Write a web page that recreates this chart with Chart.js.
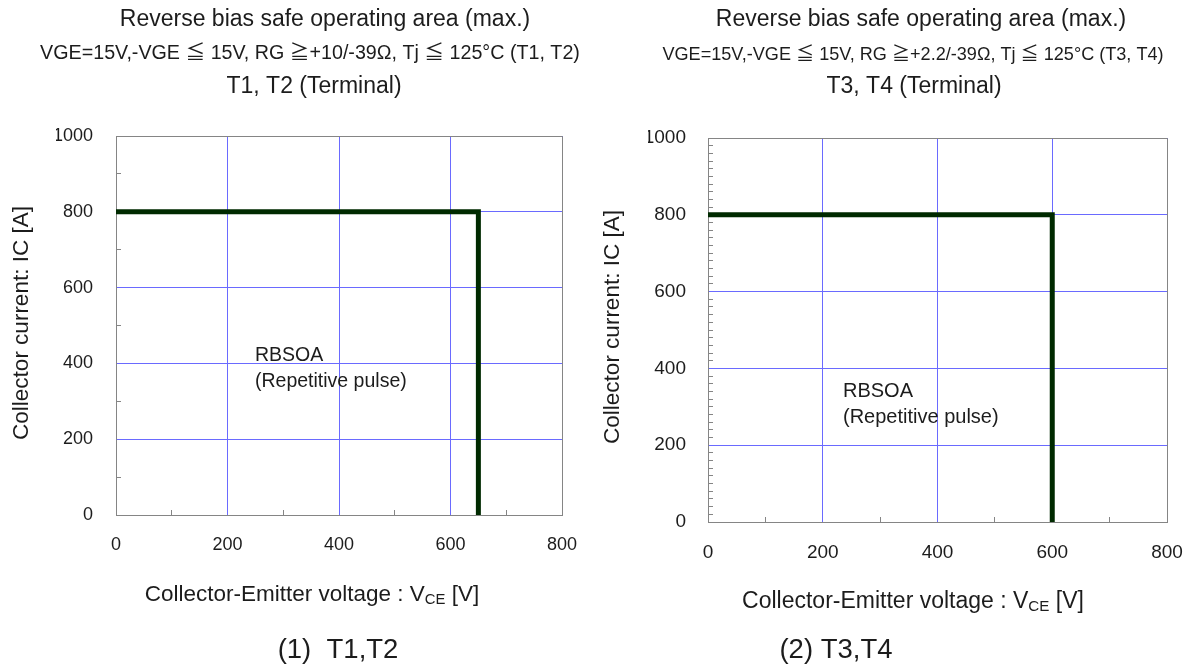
<!DOCTYPE html>
<html>
<head>
<meta charset="utf-8">
<script src="https://cdn.jsdelivr.net/npm/chart.js@4.4.1/dist/chart.umd.min.js"></script>
<style>
  html, body { margin: 0; padding: 0; background: #ffffff; width: 1187px; height: 666px; overflow: hidden; }
  canvas { position: absolute; left: 0; top: 0; }
</style>
</head>
<body>
<canvas id="rbsoaT12" width="1187" height="666"></canvas>
<canvas id="rbsoaT34" width="1187" height="666"></canvas>
<script>
// RBSOA boundary, T1/T2 terminals (V, A)
const t12Voltage = [0, 650, 650];
const t12Current = [800, 800, 0];
// RBSOA boundary, T3/T4 terminals (V, A)
const t34Voltage = [0, 600, 600];
const t34Current = [800, 800, 0];

// axis ranges and labelled tick spacing
const voltageRange = [0, 800];
const currentRange = [0, 1000];
const labelStep = 200;

const FONT = "'Liberation Sans', Arial, 'Noto Sans CJK JP', sans-serif";
const TEXT = '#1c1c1c';
const GRID = '#6a6aff';
const FRAME = '#858585';
const LINE = '#002a00';

function toPoints(xs, ys) { return xs.map((x, i) => ({ x: x, y: ys[i] })); }
// same 1px snapping Chart.js applies to its grid lines
function snap(p) { return Math.round(p - 0.5) + 0.5; }

// grey frame on the top/right edges and short inward ticks between grid lines
const frameAndMinorTicks = {
  id: 'frameAndMinorTicks',
  beforeDatasetsDraw(chart, args, opts) {
    const { ctx, chartArea: a, scales } = chart;
    const xs = scales.x, ys = scales.y;
    ctx.save();
    ctx.strokeStyle = FRAME;
    ctx.lineWidth = 1;
    ctx.beginPath();
    const top = snap(ys.getPixelForValue(ys.max));
    const right = snap(xs.getPixelForValue(xs.max));
    ctx.moveTo(a.left, top);
    ctx.lineTo(right, top);
    ctx.lineTo(right, a.bottom);
    for (let v = xs.min + opts.xStep; v < xs.max; v += opts.xStep) {
      if (v % labelStep === 0) continue;
      const px = snap(xs.getPixelForValue(v));
      ctx.moveTo(px, a.bottom);
      ctx.lineTo(px, a.bottom - opts.len);
    }
    for (let v = ys.min + opts.yStep; v < ys.max; v += opts.yStep) {
      if (v % labelStep === 0) continue;
      const py = snap(ys.getPixelForValue(v));
      ctx.moveTo(a.left, py);
      ctx.lineTo(a.left + opts.len, py);
    }
    ctx.stroke();
    ctx.restore();
  }
};

// titles, annotations, axis titles and caption
const textBlocks = {
  id: 'textBlocks',
  afterDraw(chart, args, opts) {
    const ctx = chart.ctx;
    ctx.save();
    ctx.fillStyle = TEXT;
    ctx.textBaseline = 'middle';
    for (const it of opts.items) {
      ctx.save();
      ctx.font = it.size + 'px ' + FONT;
      ctx.translate(it.x, it.y);
      if (it.rotate) ctx.rotate(it.rotate);
      if (it.sub) {
        // text with a subscript run: [before, sub, after]
        const subFont = (it.size * 0.66) + 'px ' + FONT;
        const w1 = ctx.measureText(it.sub[0]).width;
        const w3 = ctx.measureText(it.sub[2]).width;
        ctx.font = subFont;
        const w2 = ctx.measureText(it.sub[1]).width;
        let x = -(w1 + w2 + w3) / 2;
        ctx.textAlign = 'left';
        ctx.font = it.size + 'px ' + FONT;
        ctx.fillText(it.sub[0], x, 0);
        x += w1;
        ctx.font = subFont;
        ctx.fillText(it.sub[1], x, it.size * 0.22);
        x += w2;
        ctx.font = it.size + 'px ' + FONT;
        ctx.fillText(it.sub[2], x, 0);
      } else {
        ctx.textAlign = it.align || 'center';
        ctx.fillText(it.text, 0, 0);
      }
      ctx.restore();
    }
    ctx.restore();
  }
};

function makeChart(id, xs, ys, cfg) {
  return new Chart(document.getElementById(id), {
    type: 'scatter',
    data: {
      datasets: [{
        data: toPoints(xs, ys),
        showLine: true,
        borderColor: LINE,
        borderWidth: 5,
        borderJoinStyle: 'miter',
        pointRadius: 0,
        tension: 0,
        fill: false
      }]
    },
    options: {
      responsive: false,
      animation: false,
      events: [],
      layout: { padding: cfg.padding },
      plugins: {
        legend: { display: false },
        tooltip: { enabled: false },
        frameAndMinorTicks: { xStep: 100, yStep: cfg.yMinorStep, len: 5 },
        textBlocks: { items: cfg.texts }
      },
      scales: {
        x: {
          type: 'linear',
          min: voltageRange[0], max: voltageRange[1],
          afterFit(s) { s.height = 50; s.paddingLeft = 0; s.paddingRight = 0; },
          ticks: {
            stepSize: labelStep, padding: cfg.xTickPad, color: TEXT,
            font: { family: FONT, size: cfg.tickSize },
            callback: v => String(v)
          },
          grid: { drawTicks: false, lineWidth: 1, color: GRID },
          border: { color: FRAME, width: 1 }
        },
        y: {
          type: 'linear',
          min: currentRange[0], max: currentRange[1],
          afterFit(s) { s.width = 60; s.paddingTop = 0; s.paddingBottom = 0; },
          ticks: {
            stepSize: labelStep, padding: cfg.yTickPad, color: TEXT,
            font: { family: FONT, size: cfg.tickSize },
            callback: v => String(v)
          },
          grid: { drawTicks: false, lineWidth: 1, color: GRID },
          border: { color: FRAME, width: 1 }
        }
      }
    },
    plugins: [frameAndMinorTicks, textBlocks]
  });
}

makeChart('rbsoaT12', t12Voltage, t12Current, {
  padding: { left: 56, right: 1187 - 562, top: 136, bottom: 666 - 515 - 50 },
  yMinorStep: 100,
  tickSize: 18,
  xTickPad: 19,
  yTickPad: 23,
  texts: [
    { text: 'Reverse bias safe operating area (max.)', x: 325, y: 20, size: 23 },
    { text: 'VGE=15V,-VGE \u2266 15V, RG \u2267+10/-39\u03A9, Tj \u2266 125\u00B0C (T1, T2)', x: 310, y: 54, size: 19.7 },
    { text: 'T1, T2 (Terminal)', x: 314, y: 87, size: 23 },
    { text: 'RBSOA', x: 255, y: 356, size: 19.5, align: 'left' },
    { text: '(Repetitive pulse)', x: 255, y: 382, size: 19.5, align: 'left' },
    { text: 'Collector current: IC [A]', x: 22, y: 323, size: 22.5, rotate: -Math.PI / 2 },
    { sub: ['Collector-Emitter voltage : V', 'CE', ' [V]'], x: 312, y: 595, size: 22.5 },
    { text: '(1)  T1,T2', x: 338, y: 650, size: 27.5 }
  ]
});

makeChart('rbsoaT34', t34Voltage, t34Current, {
  padding: { left: 708 - 60, right: 1187 - 1167, top: 138, bottom: 666 - 522 - 50 },
  yMinorStep: 20,
  tickSize: 19,
  xTickPad: 19,
  yTickPad: 22,
  texts: [
    { text: 'Reverse bias safe operating area (max.)', x: 921, y: 20, size: 23 },
    { text: 'VGE=15V,-VGE \u2266 15V, RG \u2267+2.2/-39\u03A9, Tj \u2266 125\u00B0C (T3, T4)', x: 913, y: 55, size: 18.1 },
    { text: 'T3, T4 (Terminal)', x: 914, y: 87, size: 23 },
    { text: 'RBSOA', x: 843, y: 391, size: 20, align: 'left' },
    { text: '(Repetitive pulse)', x: 843, y: 417, size: 20, align: 'left' },
    { text: 'Collector current: IC [A]', x: 613, y: 327, size: 22.5, rotate: -Math.PI / 2 },
    { sub: ['Collector-Emitter voltage : V', 'CE', ' [V]'], x: 913, y: 602, size: 23 },
    { text: '(2) T3,T4', x: 836, y: 650, size: 27.5 }
  ]
});
</script>
</body>
</html>
